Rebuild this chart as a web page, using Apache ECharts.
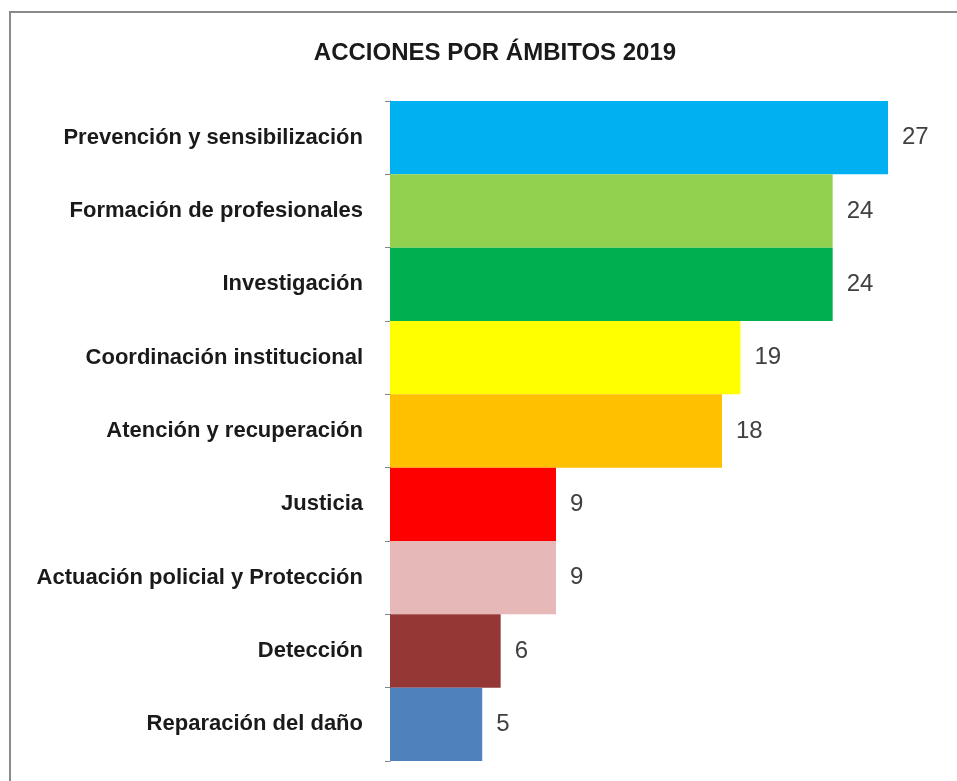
<!DOCTYPE html>
<html>
<head>
<meta charset="utf-8">
<script src="https://cdn.jsdelivr.net/npm/echarts@6/dist/echarts.min.js"></script>
<style>
html,body{margin:0;padding:0;background:#fff;}
#chart{width:957px;height:781px;}
</style>
</head>
<body>
<div id="chart"></div>
<script>
const categories = ["Prevención y sensibilización","Formación de profesionales","Investigación","Coordinación institucional","Atención y recuperación","Justicia","Actuación policial y Protección","Detección","Reparación del daño"];
const values = [27,24,24,19,18,9,9,6,5];
const colors = ["#00B0F0","#92D050","#00B050","#FFFF00","#FFC000","#FF0000","#E6B9B8","#953735","#4F81BD"];
const titleText = "ACCIONES POR ÁMBITOS 2019";

const chart = echarts.init(document.getElementById('chart'), null, {renderer:'canvas'});
chart.setOption({
  animation:false,
  backgroundColor:'#ffffff',
  title:{
    text:titleText,
    left:490, top:36, textAlign:'center',
    textStyle:{fontFamily:'Liberation Sans', fontWeight:'bold', fontSize:24, color:'#1a1a1a'}
  },
  graphic:[{
    type:'polyline', silent:true,
    shape:{points:[[10,790],[10,12],[970,12]]},
    style:{stroke:'#8a8a8a', lineWidth:2, fill:null}
  }],
  grid:{left:390, right:69, top:101, bottom:20, containLabel:false},
  xAxis:{type:'value', min:0, max:27, show:false},
  yAxis:{
    type:'category', data:categories, inverse:true,
    axisLine:{show:true, lineStyle:{color:'#868686', width:1}},
    axisTick:{show:true, length:5, lineStyle:{color:'#868686'}},
    axisLabel:{margin:27, fontFamily:'Liberation Sans', fontWeight:'bold', fontSize:22, color:'#1a1a1a'}
  },
  series:[{
    type:'bar',
    data:values.map((v,i)=>({value:v, itemStyle:{color:colors[i]}})),
    barCategoryGap:'0%',
    label:{show:true, position:'right', distance:14, fontFamily:'Liberation Sans', fontSize:24, color:'#404040'}
  }]
});
</script>
</body>
</html>
